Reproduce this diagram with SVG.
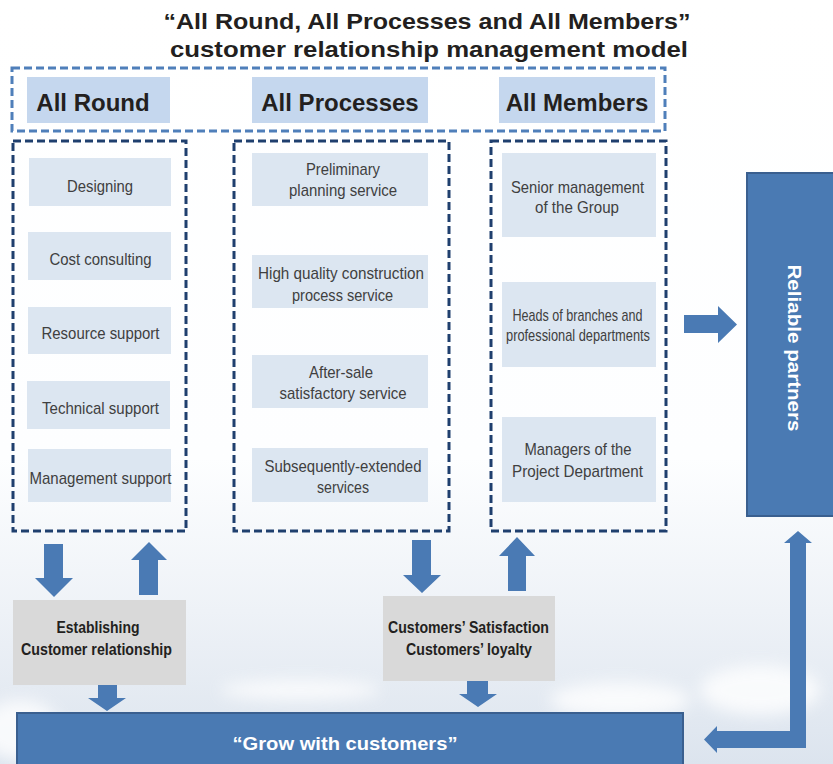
<svg xmlns="http://www.w3.org/2000/svg" width="833" height="764" viewBox="0 0 833 764">
<defs>
<linearGradient id="sky" x1="0" y1="0" x2="0" y2="1">
<stop offset="0" stop-color="#ffffff"/>
<stop offset="0.6" stop-color="#fdfeff"/>
<stop offset="0.8" stop-color="#eef2f7"/>
<stop offset="1" stop-color="#dce4ee"/>
</linearGradient>
<filter id="blur" x="-50%" y="-50%" width="200%" height="200%"><feGaussianBlur stdDeviation="8"/></filter>
<style>
.title{font-family:"Liberation Sans",Arial,sans-serif;font-weight:bold;font-size:22px;fill:#231f20;text-anchor:middle}
.hdr{fill:#c5d7ee}
.hdrt{font-family:"Liberation Sans",Arial,sans-serif;font-weight:bold;font-size:24px;fill:#231f20;text-anchor:middle}
.outer{fill:none;stroke:#4f7fba;stroke-width:3;stroke-dasharray:8 4}
.col{fill:none;stroke:#1f3f6e;stroke-width:3;stroke-dasharray:8 4}
.item{fill:#dce6f1}
.it{font-family:"Liberation Sans",Arial,sans-serif;font-size:17px;fill:#404040;text-anchor:middle}
.gray{fill:#d9d9d9}
.gt{font-family:"Liberation Sans",Arial,sans-serif;font-weight:bold;font-size:17px;fill:#231f20;text-anchor:middle}
.blue{fill:#4a7ab3;stroke:#3a5f8f;stroke-width:2}
.bt{font-family:"Liberation Sans",Arial,sans-serif;font-weight:bold;font-size:18px;fill:#ffffff;text-anchor:middle}
.arr{fill:#4a7ab4}
</style>
</defs>
<rect x="0" y="0" width="833" height="764" fill="url(#sky)"/>
<g filter="url(#blur)" fill="#ffffff" opacity="0.8">
<ellipse cx="20" cy="730" rx="40" ry="30"/>
<ellipse cx="620" cy="700" rx="70" ry="18"/>
<ellipse cx="760" cy="690" rx="60" ry="25"/>
<ellipse cx="300" cy="690" rx="80" ry="10"/>
</g>

<g id="title">
<text class="title" x="427" y="29" textLength="527" lengthAdjust="spacingAndGlyphs">“All Round, All Processes and All Members”</text>
<text class="title" x="429" y="57" textLength="518" lengthAdjust="spacingAndGlyphs">customer relationship management model</text>
</g>

<g id="header">
<rect class="outer" x="12" y="68" width="653" height="63"/>
<g id="h-all-round"><rect class="hdr" x="27" y="77" width="143" height="46"/><text class="hdrt" x="93" y="111">All Round</text></g>
<g id="h-all-processes"><rect class="hdr" x="252" y="77" width="176" height="46"/><text class="hdrt" x="340" y="111">All Processes</text></g>
<g id="h-all-members"><rect class="hdr" x="499" y="77" width="156" height="46"/><text class="hdrt" x="577" y="111">All Members</text></g>
</g>

<g id="col-round">
<rect class="col" x="13" y="141" width="173" height="390"/>
<g id="designing"><rect class="item" x="29" y="158" width="142" height="48"/><text class="it" x="100" y="192" textLength="66" lengthAdjust="spacingAndGlyphs">Designing</text></g>
<g id="cost"><rect class="item" x="28" y="232" width="143" height="48"/><text class="it" x="100.5" y="265" textLength="102" lengthAdjust="spacingAndGlyphs">Cost consulting</text></g>
<g id="resource"><rect class="item" x="28" y="307" width="143" height="47"/><text class="it" x="100.5" y="339" textLength="118" lengthAdjust="spacingAndGlyphs">Resource support</text></g>
<g id="technical"><rect class="item" x="27" y="381" width="143" height="48"/><text class="it" x="100.5" y="414" textLength="117" lengthAdjust="spacingAndGlyphs">Technical support</text></g>
<g id="management"><rect class="item" x="28" y="449" width="143" height="53"/><text class="it" x="100.5" y="484" textLength="142" lengthAdjust="spacingAndGlyphs">Management support</text></g>
</g>

<g id="col-processes">
<rect class="col" x="234" y="141" width="215" height="390"/>
<g id="preliminary"><rect class="item" x="252" y="153" width="176" height="53"/><text class="it" x="343" y="175" textLength="74" lengthAdjust="spacingAndGlyphs">Preliminary</text><text class="it" x="343" y="196" textLength="108" lengthAdjust="spacingAndGlyphs">planning service</text></g>
<g id="construction"><rect class="item" x="252" y="255" width="176" height="53"/><text class="it" x="341" y="279" textLength="166" lengthAdjust="spacingAndGlyphs">High quality construction</text><text class="it" x="342.5" y="301" textLength="101" lengthAdjust="spacingAndGlyphs">process service</text></g>
<g id="aftersale"><rect class="item" x="252" y="355" width="176" height="53"/><text class="it" x="341" y="378" textLength="64" lengthAdjust="spacingAndGlyphs">After-sale</text><text class="it" x="343" y="399" textLength="127" lengthAdjust="spacingAndGlyphs">satisfactory service</text></g>
<g id="extended"><rect class="item" x="252" y="448" width="176" height="54"/><text class="it" x="343" y="472" textLength="157" lengthAdjust="spacingAndGlyphs">Subsequently-extended</text><text class="it" x="343" y="493" textLength="52" lengthAdjust="spacingAndGlyphs">services</text></g>
</g>

<g id="col-members">
<rect class="col" x="491" y="141" width="175" height="390"/>
<g id="senior"><rect class="item" x="502" y="153" width="154" height="84"/><text class="it" x="577.5" y="193" textLength="133" lengthAdjust="spacingAndGlyphs">Senior management</text><text class="it" x="577" y="213" textLength="84" lengthAdjust="spacingAndGlyphs">of the Group</text></g>
<g id="heads"><rect class="item" x="502" y="282" width="154" height="85"/><text class="it" x="577.5" y="321" textLength="130" lengthAdjust="spacingAndGlyphs">Heads of branches and</text><text class="it" x="578" y="341" textLength="144" lengthAdjust="spacingAndGlyphs">professional departments</text></g>
<g id="managers"><rect class="item" x="502" y="417" width="154" height="85"/><text class="it" x="578" y="455" textLength="107" lengthAdjust="spacingAndGlyphs">Managers of the</text><text class="it" x="577.5" y="477" textLength="131" lengthAdjust="spacingAndGlyphs">Project Department</text></g>
</g>

<g id="reliable">
<rect class="blue" x="747" y="173" width="90" height="343"/>
<text class="bt" transform="translate(794,348) rotate(90)" dominant-baseline="central" font-size="19" textLength="167" lengthAdjust="spacingAndGlyphs">Reliable partners</text>
</g>

<g id="establishing">
<rect class="gray" x="13" y="600" width="173" height="85"/>
<text class="gt" x="98" y="633" textLength="83" lengthAdjust="spacingAndGlyphs">Establishing</text>
<text class="gt" x="96.5" y="655" textLength="151" lengthAdjust="spacingAndGlyphs">Customer relationship</text>
</g>

<g id="satisfaction">
<rect class="gray" x="383" y="596" width="172" height="85"/>
<text class="gt" x="468.5" y="633" textLength="161" lengthAdjust="spacingAndGlyphs">Customers’ Satisfaction</text>
<text class="gt" x="469" y="655" textLength="126" lengthAdjust="spacingAndGlyphs">Customers’ loyalty</text>
</g>

<g id="grow">
<rect class="blue" x="17" y="713" width="666" height="60"/>
<text class="bt" x="345" y="750" textLength="225" lengthAdjust="spacingAndGlyphs">“Grow with customers”</text>
</g>

<g id="connectors">
<polygon class="arr" points="44,544 63,544 63,578 73,578 54,597 35,578 44,578"/>
<polygon class="arr" points="149,542 167,560 158,560 158,595 139,595 139,560 131,560"/>
<polygon class="arr" points="98,685 117,685 117,698 126,698 107,711 88,698 98,698"/>
<polygon class="arr" points="412,540 431,540 431,575 441,575 422,593 403,575 412,575"/>
<polygon class="arr" points="517,537 535,556 526,556 526,591 508,591 508,556 499,556"/>
<polygon class="arr" points="467,681 488,681 488,694 497,694 478,707 459,694 467,694"/>
<polygon class="arr" points="684,315 718,315 718,306 737,324.5 718,343 718,333 684,333"/>
<polygon class="arr" points="798,531 812,543 806,543 806,748 717,748 717,753 704,739.5 717,726 717,731 790,731 790,543 784,543"/>
</g>
</svg>
